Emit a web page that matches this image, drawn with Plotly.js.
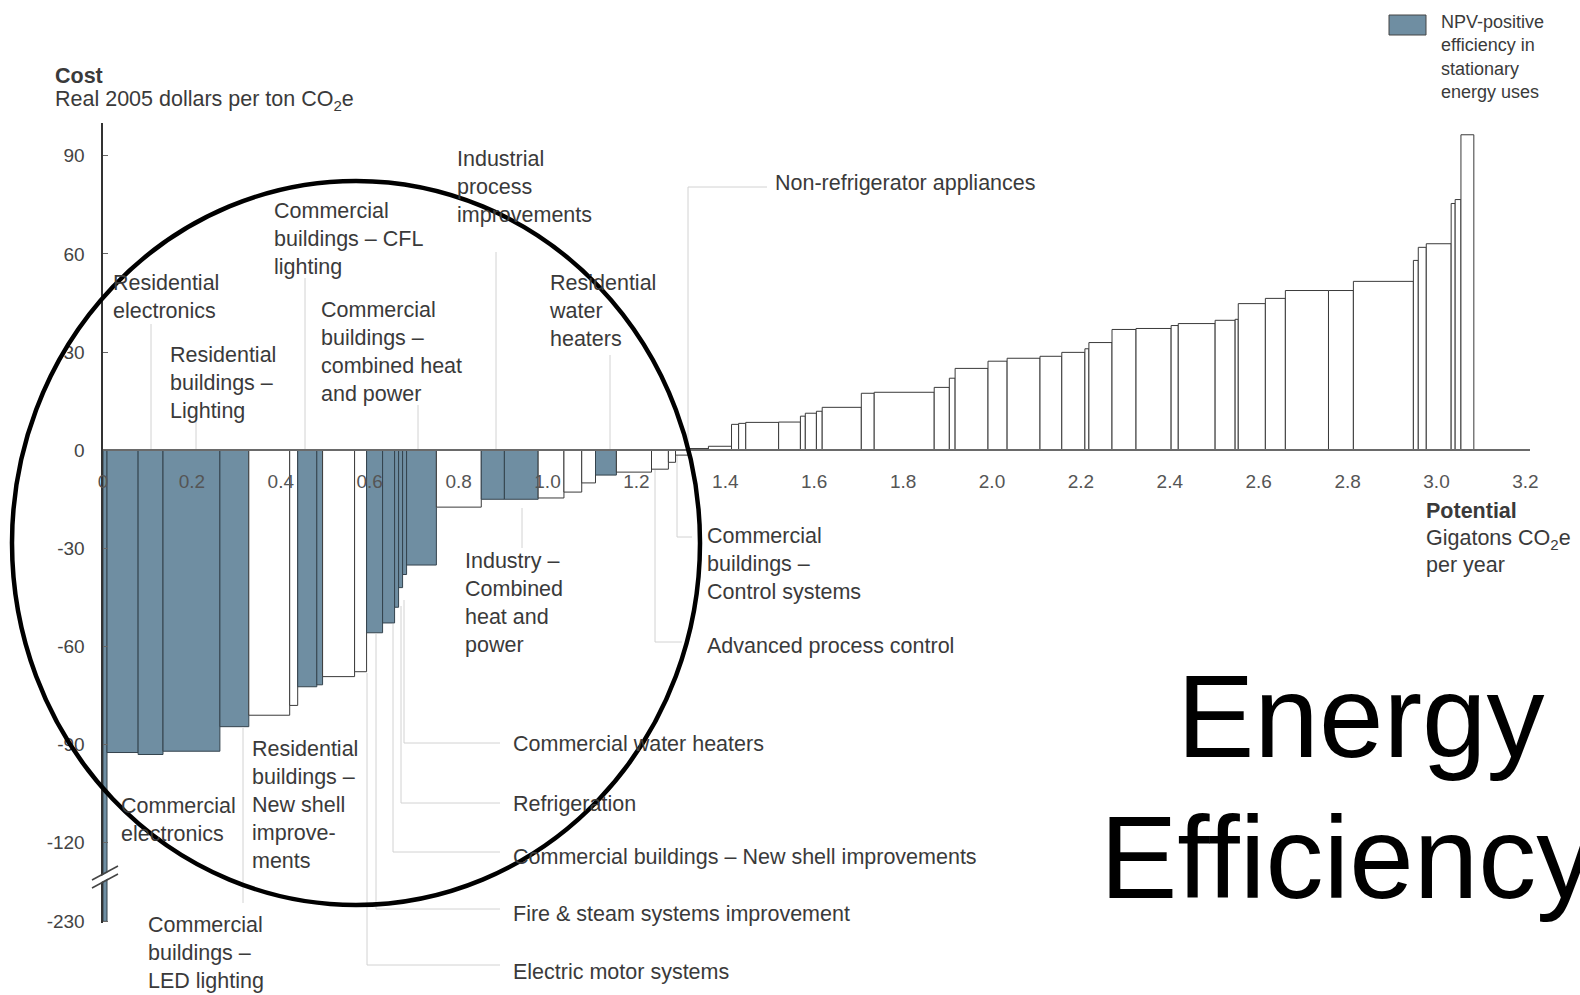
<!DOCTYPE html>
<html><head><meta charset="utf-8">
<script src="https://cdn.plot.ly/plotly-3.0.1.min.js"></script>
<style>html,body{margin:0;padding:0;background:#fff}#chart{width:1580px;height:995px}</style>
</head><body><div id="chart"></div>
<script>
// ---- data: abatement potential (Gt CO2e/yr) and cost (real 2005 $ per t CO2e), left to right ----
const widthsGt = [0.009,0.070,0.056,0.128,0.065,0.092,0.018,0.043,0.013,0.072,0.027,0.036,0.027,0.009,0.009,0.009,0.067,
  0.101,0.052,0.076,0.058,0.040,0.031,0.047,0.079,0.038,0.016,0.029,0.045,0.052,0.016,0.016,0.074,0.049,0.011,0.025,0.013,
  0.088,0.029,0.135,0.034,0.013,0.074,0.043,0.074,0.049,0.052,0.009,0.052,0.054,0.079,0.016,0.083,0.045,0.007,0.061,0.045,
  0.097,0.056,0.135,0.011,0.018,0.056,0.009,0.013,0.029];
const costs = [-230,-92.4,-93.0,-92.0,-84.5,-81.0,-78.0,-72.3,-71.7,-69.2,-67.7,-55.8,-52.8,-48,-42,-38,-35.1,
  -17.4,-15.0,-15.0,-14.6,-12.8,-10.0,-7.6,-6.7,-5.8,-3.7,-1.5,0.5,1.2,7.9,8.2,8.5,8.6,10.4,11.3,11.9,
  13.1,17.4,17.7,19.2,22.0,25.0,27.2,28.1,28.7,29.9,31.0,32.9,36.9,37.2,38.1,38.7,39.7,40.0,44.8,46.4,
  48.8,48.8,51.6,58.0,62.0,63.1,75.4,76.6,96.4];
const npvPositive = [1,1,1,1,1,0,0,1,1,0,0,1,1,1,1,1,1,
  0,1,1,0,0,0,1,0,0,0,0,0,0,0,0,0,0,0,0,0,
  0,0,0,0,0,0,0,0,0,0,0,0,0,0,0,0,0,0,0,0,
  0,0,0,0,0,0,0,0,0];
const xTickVals = [0,0.2,0.4,0.6,0.8,1.0,1.2,1.4,1.6,1.8,2.0,2.2,2.4,2.6,2.8,3.0,3.2];
const xTickText = ["0","0.2","0.4","0.6","0.8","1.0","1.2","1.4","1.6","1.8","2.0","2.2","2.4","2.6","2.8","3.0","3.2"];
const yTickVals = [90,60,30,0,-30,-60,-90,-120,-230];
const yTickText = ["90","60","30","0","-30","-60","-90","-120","-230"];
const measureLabels = [
  "Residential<br>electronics",
  "Residential<br>buildings –<br>Lighting",
  "Commercial<br>buildings – CFL<br>lighting",
  "Commercial<br>buildings –<br>combined heat<br>and power",
  "Industrial<br>process<br>improvements",
  "Residential<br>water<br>heaters",
  "Non-refrigerator appliances",
  "Commercial<br>buildings –<br>Control systems",
  "Advanced process control",
  "Industry –<br>Combined<br>heat and<br>power",
  "Commercial water heaters",
  "Refrigeration",
  "Commercial buildings – New shell improvements",
  "Fire &amp; steam systems improvement",
  "Electric motor systems",
  "Residential<br>buildings –<br>New shell<br>improve-<br>ments",
  "Commercial<br>electronics",
  "Commercial<br>buildings –<br>LED lighting"
];
const legendLabel = "NPV-positive<br>efficiency in<br>stationary<br>energy uses";

// ---- broken y axis: values below -120 are compressed ----
const BREAK = -120, BREAK_K = 24/110;
function disp(v){ return v >= BREAK ? v : BREAK + (v - BREAK) * BREAK_K; }

// cumulative positions
const centers = [], shown = [];
let acc = 0;
for (let i = 0; i < widthsGt.length; i++) { centers.push(acc + widthsGt[i]/2); acc += widthsGt[i]; shown.push(disp(costs[i])); }

const BLUE = '#6f8ea2';
const trace = {
  type: 'bar', x: centers, y: shown, width: widthsGt, base: 0,
  customdata: costs,
  marker: { color: npvPositive.map(f => f ? BLUE : '#ffffff'),
            line: { color: npvPositive.map(f => f ? '#34434d' : '#3a3a3a'), width: 1 } },
  hovertemplate: '%{customdata} $/t<extra></extra>', showlegend: false
};

// ---- geometry ----
const L = 103, T = 123, W = 1427, H = 800;
const PXU = 444.5;
const yMin = -144.5, yMax = 100;
const px = x => (x - L) / W;
const py = y => (T + H - y) / H;
const FONT = 'Liberation Sans, Arial, Helvetica, sans-serif';
const TXT = '#3a3a3a';

const labelPos = [
  [111,283],[168,355],[272,211],[319,310],[455,159],[547,283],[773,183],[705,536],[705,646],[463,561],
  [511,744],[511,804],[511,857],[511,914],[511,972],[250,749],[119,806],[146,925]
];
const FS = 21.5;
const annotations = measureLabels.map((t,i) => ({
  xref:'paper', yref:'paper', x: px(labelPos[i][0]), y: py(labelPos[i][1] - 0.65*FS),
  xanchor:'left', yanchor:'top', align:'left', showarrow:false, text:t,
  font:{family:FONT, size:FS, color:TXT}
}));
function txt(x, y, t, opts) {
  return Object.assign({xref:'paper', yref:'paper', x:px(x), y:py(y), xanchor:'left', yanchor:'middle',
    align:'left', showarrow:false, text:t, font:{family:FONT, size:FS, color:TXT}}, opts||{});
}
annotations.push(txt(53, 76, '<b>Cost</b>'));
annotations.push(txt(53, 101, 'Real 2005 dollars per ton CO<sub>2</sub>e'));
annotations.push(txt(1424, 511, '<b>Potential</b>'));
annotations.push(txt(1424, 539, 'Gigatons CO<sub>2</sub>e'));
annotations.push(txt(1424, 565, 'per year'));
annotations.push(txt(1439, 10, legendLabel, {yanchor:'top', font:{family:FONT, size:18, color:TXT}}));
annotations.push(txt(1361, 717, 'Energy', {xanchor:'center', font:{family:FONT, size:116, color:'#000'}}));
annotations.push(txt(1347, 858, 'Efficiency', {xanchor:'center', font:{family:FONT, size:116, color:'#000'}}));

// leader lines (pixel polylines)
const leaders = [
  [[151,324],[151,450]],
  [[196,417],[196,450]],
  [[305,278],[305,450]],
  [[418,405],[418,450]],
  [[496,252],[496,450]],
  [[610,355],[610,450]],
  [[688,450],[688,187],[767,187]],
  [[677,453],[677,537],[692,537]],
  [[655,470],[655,642],[682,642]],
  [[522,508],[522,548]],
  [[404,600],[404,743],[500,743]],
  [[401,606],[401,803],[500,803]],
  [[393,624],[393,852],[500,852]],
  [[376,634],[376,909],[500,909]],
  [[367,673],[367,965],[500,965]],
  [[243,728],[243,903]]
];
const shapes = leaders.map(pts => ({
  type:'path', xref:'paper', yref:'paper', layer:'below',
  path: pts.map((p,i) => (i ? 'L' : 'M') + px(p[0]) + ',' + py(p[1])).join(' '),
  line:{color:'#d2d2d2', width:1}
}));
// axis break
shapes.push({type:'path', xref:'paper', yref:'paper', layer:'above',
  path:`M${px(94)},${py(880)} L${px(116)},${py(868)} L${px(116)},${py(874)} L${px(94)},${py(886)} Z`,
  fillcolor:'#ffffff', line:{width:0}});
shapes.push({type:'line', xref:'paper', yref:'paper', x0:px(92), y0:py(880), x1:px(118), y1:py(866), line:{color:'#444', width:1.5}});
shapes.push({type:'line', xref:'paper', yref:'paper', x0:px(92), y0:py(888), x1:px(118), y1:py(874), line:{color:'#444', width:1.5}});
// legend swatch
shapes.push({type:'rect', xref:'paper', yref:'paper', x0:px(1389), x1:px(1426), y0:py(15), y1:py(35),
  fillcolor:BLUE, line:{color:'#444', width:1}});
// highlight circle
shapes.push({type:'circle', xref:'paper', yref:'paper', x0:px(12), x1:px(700), y0:py(181), y1:py(905),
  line:{color:'#000', width:4.5}, layer:'above'});

const layout = {
  width:1580, height:995, paper_bgcolor:'#fff', plot_bgcolor:'rgba(0,0,0,0)',
  margin:{l:L, r:1580-L-W, t:T, b:995-T-H}, showlegend:false,
  xaxis:{range:[0, W/PXU], anchor:'free', position:(0 - yMin)/(yMax - yMin),
    showline:true, linecolor:'#6a6a6a', linewidth:2, showgrid:false, zeroline:false,
    tickvals:xTickVals, ticktext:xTickText, ticks:'', ticklabelstandoff:14,
    tickfont:{family:FONT, size:19, color:'#555'}},
  yaxis:{range:[yMin, yMax], showline:true, linecolor:'#333', linewidth:2.5, showgrid:false, zeroline:false,
    tickvals:yTickVals.map(disp), ticktext:yTickText, ticks:'inside', ticklen:5, tickcolor:'#666',
    ticklabelstandoff:12, tickfont:{family:FONT, size:19, color:'#444'}},
  annotations, shapes, bargap:0
};
Plotly.newPlot('chart', [trace], layout, {displayModeBar:false, staticPlot:true});
</script></body></html>
